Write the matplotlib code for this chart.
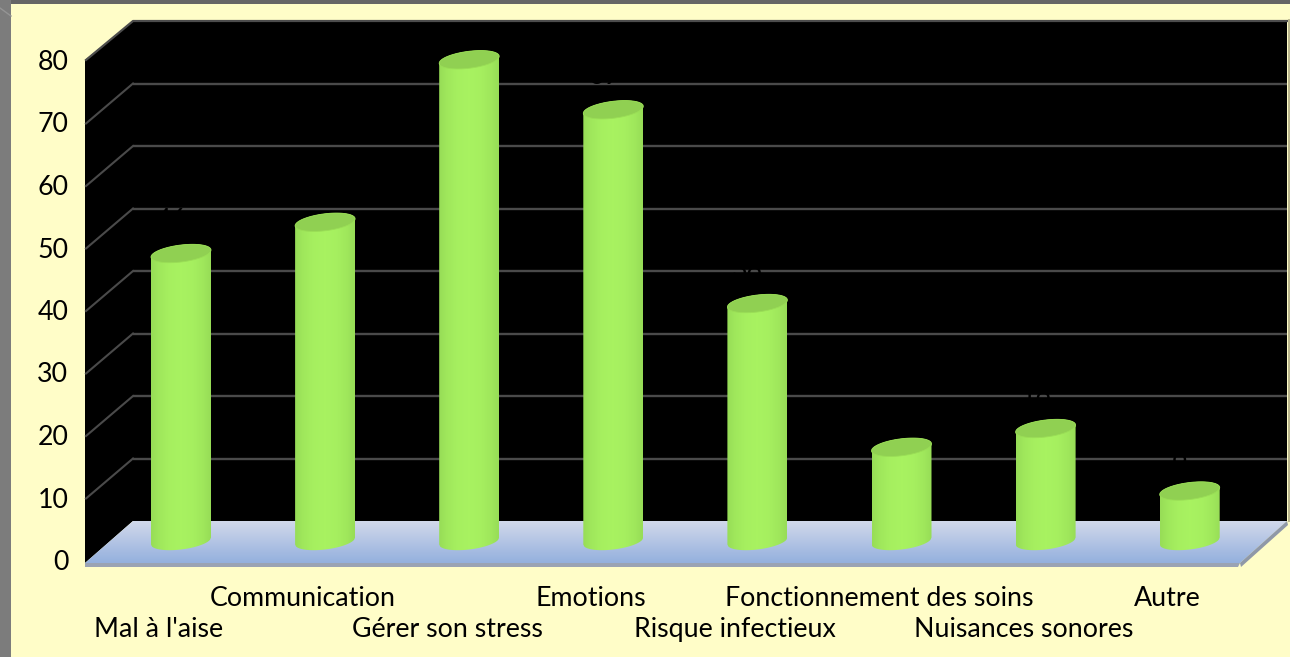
import numpy as np
import matplotlib
matplotlib.use("Agg")
import matplotlib.pyplot as plt
from matplotlib.patches import Polygon, Rectangle

categories = ["Mal à l'aise", "Communication", "Gérer son stress", "Emotions",
              "Risque infectieux", "Fonctionnement des soins", "Nuisances sonores", "Autre"]
values = [46, 51, 77, 69, 38, 15, 18, 8]
y_ticks = [0, 10, 20, 30, 40, 50, 60, 70, 80]

W, H = 1290, 657
plt.rcParams['font.family'] = ['Lato', 'DejaVu Sans']
FS = 19.3
fig = plt.figure(figsize=(W / 100, H / 100), dpi=100, facecolor='#FFFDC8')


def axes_px(x0, x1, ytop, ybot, **kw):
    return fig.add_axes([x0 / W, 1 - ybot / H, (x1 - x0) / W, (ybot - ytop) / H], **kw)


# ---- backdrop, in pixel units
bg = axes_px(0, W, 0, H, zorder=0)
bg.set_xlim(0, W); bg.set_ylim(H, 0); bg.axis('off')
bg.add_patch(Rectangle((0, 0), W, 3.5, color='#666666', lw=0))
bg.add_patch(Rectangle((0, 0), 11, H, color='#7c7c7c', lw=0))
bg.plot([0, 11], [8, 16], color='#949494', lw=1)
BX0, BX1, BY0, BY1 = 133, 1287, 21, 521      # back wall
FX0, FX1, FY = 85, 1240, 563                 # front floor edge
bg.add_patch(Polygon([(FX0, 60), (BX0, BY0), (BX1, BY0), (BX1, BY1), (BX0, BY1), (FX0, FY)],
                     color='black', lw=0))
bg.plot([FX0 + 1, BX0, BX1], [60, BY0, BY0], color='#4d4d4d', lw=1.6)
bg.plot([BX1 + 1.5] * 2, [20, BY1], color='#b9b58c', lw=1.4)
floor = Polygon([(BX0, BY1), (BX1, BY1), (FX1, FY), (FX0, FY)], transform=bg.transData, lw=0,
                fc='none')
bg.add_patch(floor)
grad = np.linspace(0, 1, 64)[:, None, None]
cols = (1 - grad) * np.array([0.82, 0.85, 0.92]) + grad * np.array([0.58, 0.69, 0.87])
im = bg.imshow(cols, extent=(FX0, BX1, FY, BY1), aspect='auto', zorder=1)
im.set_clip_path(floor)
bg.set_xlim(0, W); bg.set_ylim(H, 0)
bg.add_patch(Polygon([(FX0, FY), (FX1, FY), (FX1 - 2, FY + 4), (FX0, FY + 4)], color='#9aa3b4',
                     lw=0, zorder=2))
bg.add_patch(Polygon([(FX1, FY), (BX1, BY1), (BX1 + 1, BY1 + 4), (FX1 + 1, FY + 4)],
                     color='#8f98a8', lw=0, zorder=2))

# ---- back wall grid
wall = axes_px(BX0, BX1, BY0, BY1, zorder=1)
wall.patch.set_visible(False)
wall.set_ylim(0, 80); wall.set_xlim(0, 1)
wall.set_yticks(y_ticks[1:-1]); wall.set_xticks([])
wall.tick_params(length=0, labelleft=False)
wall.grid(axis='y', color='#4a4a4a', lw=1.7)
for s in wall.spines.values():
    s.set_visible(False)

# ---- front axis: ticks and category labels
front = axes_px(FX0, FX1 + 48, 60, 560, zorder=2)
front.patch.set_visible(False)
front.set_ylim(0, 80)
LAB0, STEP = 159, 144.1
front.set_xlim((FX0 - LAB0) / STEP, (FX1 + 48 - LAB0) / STEP)
front.set_yticks(y_ticks)
front.set_yticklabels([str(v) for v in y_ticks], fontsize=FS, color='black')
front.set_xticks(range(len(categories)))
front.set_xticklabels(categories, fontsize=FS, color='black')
front.tick_params(length=0)
front.tick_params(axis='y', pad=12)
for i, t in enumerate(front.xaxis.get_major_ticks()):
    t.set_pad(41 if i % 2 == 0 else 19)
for s in front.spines.values():
    s.set_visible(False)
# side wall grid, from the front value to the back value
for v in y_ticks[1:-1]:
    yb = wall.transData.transform((0, v))[1]
    yf = front.transData.transform((0, v))[1] - 1
    bg.plot([FX0 + 1, BX0], [H - yf, H - yb], color='#4a4a4a', lw=1.5, zorder=1)

# ---- cylinders
BASE_PX, RX, RY, TILT = 541, 30, 8.5, 3.5
BARS_TOP, BARS_BOT = 23, 560
bars = axes_px(0, W, BARS_TOP, BARS_BOT, zorder=3)
bars.patch.set_visible(False)
BAR0 = 181
BAR_XLIM = (-BAR0 / STEP, (W - BAR0) / STEP)
BAR_YLIM = ((BASE_PX - BARS_BOT) / 6.25, (BASE_PX - BARS_TOP) / 6.25)
bars.set_xlim(*BAR_XLIM)
bars.set_ylim(*BAR_YLIM)
bars.axis('off')
ux, uy = 1 / STEP, 1 / 6.25
th = np.linspace(0, 2 * np.pi, 90)
ramp = np.array([0.0, 0.12, 0.3, 0.5, 0.7, 0.88, 1.0])
shade = np.interp(np.linspace(0, 1, 60), ramp, [0.45, 0.7, 0.92, 1.0, 0.92, 0.7, 0.45])
dark, light = np.array([0.54, 0.80, 0.31]), np.array([0.66, 0.95, 0.38])
body = (dark + (light - dark) * shade[:, None])[None, :, :]


def ell(cx, cy):
    ex = RX * np.cos(th)
    ey = RY * np.sin(th) + TILT * np.cos(th)
    return cx + ex * ux, cy + ey * uy


for i, v in enumerate(values):
    tx, ty = ell(i, v)
    s = np.linspace(-1, 1, 60)
    xs = i + RX * s * ux
    low = 0 - (RY * np.sqrt(1 - s ** 2) - TILT * s) * uy
    up = v + (RY * np.sqrt(1 - s ** 2) + TILT * s) * uy
    path = Polygon(np.r_[np.c_[xs, low], np.c_[xs[::-1], up[::-1]]], transform=bars.transData,
                   fc='none', lw=0)
    bars.add_patch(path)
    im = bars.imshow(body, extent=(i - RX * ux, i + RX * ux, -3, v + 3), aspect='auto', zorder=3)
    im.set_clip_path(path)
    bars.add_patch(Polygon(np.c_[tx, ty], fc='#90d052', ec='#9ade56', lw=0.6, zorder=4))
    bars.annotate(str(v), (i, v), xytext=(-7, 15), textcoords='offset points', ha='center',
                  va='bottom', fontsize=FS, color='black', zorder=2, annotation_clip=False,
                  clip_on=True)
bars.set_xlim(*BAR_XLIM)
bars.set_ylim(*BAR_YLIM)

fig.savefig('out.png', dpi=100, facecolor=fig.get_facecolor())
